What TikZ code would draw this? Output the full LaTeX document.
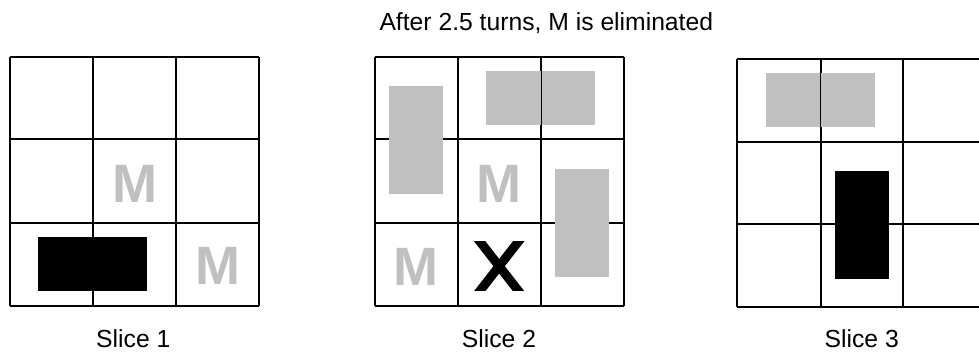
\documentclass[tikz,border=0pt]{standalone}
\usepackage{fontspec}
\setmainfont{Liberation Sans}
\definecolor{mgray}{RGB}{192,192,192}
\begin{document}
\begin{tikzpicture}[x=1pt,y=-1pt,
  gridline/.style={line width=2pt,black},
  thinline/.style={line width=0.8pt,black},
  graybox/.style={fill=mgray},
  blackbox/.style={fill=black},
  mlabel/.style={inner sep=0pt,anchor=base,text=mgray,font=\fontsize{54}{54}\selectfont\bfseries},
  caption/.style={inner sep=0pt,anchor=base,font=\fontsize{24.7}{26}\selectfont}]
\useasboundingbox (0,0) rectangle (979,354);
\node[caption] (title) at (546.3,30) {After 2.5 turns, M is eliminated};
% grids: x0/x1/x2/x3/y0/y1/y2/y3
\foreach \xa/\xb/\xc/\xd/\ya/\yb/\yc/\yd in {
  10/92.7/175.7/259/56.7/139.3/222.7/305.7,
  374.7/457.7/541/624/56.7/139.3/222.7/305.7,
  736.7/820.7/903/986/59/141.7/224.3/307.3}{
  \foreach \vx in {\xa,\xb,\xc,\xd}{\draw[gridline] (\vx,\ya) -- (\vx,\yd);}
  \foreach \hy in {\ya,\yb,\yc,\yd}{\draw[gridline] (\xa,\hy) -- (\xd,\hy);}
}
% slice 1
\fill[blackbox] (38.3,236.7) rectangle (147,290.7);
\node[mlabel] (m1a) at (134.5,202.7) {M};
\node[mlabel] (m1b) at (217.5,284) {M};
% slice 2
\fill[graybox] (389.3,86) rectangle (442.7,193.7);
\fill[graybox] (486,71) rectangle (595,124.7);
\draw[thinline] (541,71) -- (541,124.7);
\fill[graybox] (555,169) rectangle (609,276.7);
\node[mlabel] (m2a) at (499.2,202.7) {M};
\node[mlabel] (m2b) at (416,285.7) {M};
\begin{scope}
  \clip (460,241.7) rectangle (540,290.7);
  \draw[line width=9pt,black] (475.6,236) -- (522.4,296);
  \draw[line width=9pt,black] (522.7,236) -- (475.9,296);
\end{scope}
% slice 3
\fill[graybox] (766,73) rectangle (875,126.7);
\draw[thinline] (820.7,73) -- (820.7,126.7);
\fill[blackbox] (835,171) rectangle (889,279);
% captions
\node[caption] (s1) at (133.3,347.7) {Slice 1};
\node[caption] (s2) at (499,347.7) {Slice 2};
\node[caption] (s3) at (861.7,347.7) {Slice 3};
\end{tikzpicture}
\end{document}
